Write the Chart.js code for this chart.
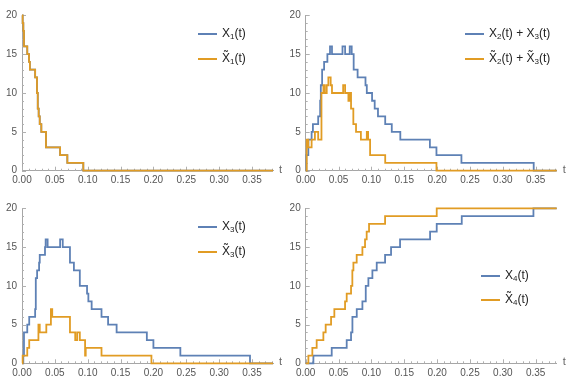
<!DOCTYPE html>
<html>
<head>
<meta charset="utf-8">
<script src="https://cdn.jsdelivr.net/npm/chart.js@4/dist/chart.umd.min.js"></script>
<style>
  html, body { margin: 0; padding: 0; background: #fff; }
  #wrap { position: relative; width: 573px; height: 387px; overflow: hidden; }
  #wrap canvas { position: absolute; }
  .leg { position: absolute; font: 12px "Liberation Sans", Arial, sans-serif; color: #222; white-space: nowrap; }
  .leg .row { position: absolute; height: 14px; }
  .leg .sw { position: absolute; top: 6px; width: 19px; height: 2px; }
  .leg .tx { position: absolute; left: 24px; top: -1px; }
  .leg sub { font-size: 8px; vertical-align: -2px; }
</style>
</head>
<body>
<div id="wrap">
  <canvas id="p1" width="286" height="193" style="left:0;top:0"></canvas>
  <canvas id="p2" width="287" height="193" style="left:286px;top:0"></canvas>
  <canvas id="p3" width="286" height="194" style="left:0;top:193px"></canvas>
  <canvas id="p4" width="287" height="194" style="left:286px;top:193px"></canvas>
</div>
<script>
// colours (Mathematica default palette)
const BLUE = '#5e81b5';
const ORANGE = '#e19c24';

// axis ticks
const xTickValues = [0, 0.05, 0.10, 0.15, 0.20, 0.25, 0.30, 0.35];
const xTickLabels = ['0.00', '0.05', '0.10', '0.15', '0.20', '0.25', '0.30', '0.35'];
const yTickValues = [0, 5, 10, 15, 20];
const yTickLabels = ['0', '5', '10', '15', '20'];
const T_END = 0.382;

// X1(t) and X~1(t) (the two coincide)
const x1Times  = [0, 0.001, 0.002, 0.003, 0.008, 0.0107, 0.012, 0.020, 0.0228, 0.024, 0.0254, 0.027, 0.0294, 0.0365, 0.058, 0.069, 0.0933];
const x1Values = [20, 19, 18, 16, 15, 14, 13, 12, 10, 8, 7, 6, 5, 3, 2, 1, 0];
const x1tTimes  = [0, 0.001, 0.002, 0.003, 0.008, 0.0107, 0.012, 0.020, 0.0228, 0.024, 0.0254, 0.027, 0.0294, 0.0365, 0.058, 0.069, 0.0933];
const x1tValues = [20, 19, 18, 16, 15, 14, 13, 12, 10, 8, 7, 6, 5, 3, 2, 1, 0];

// X2(t)+X3(t) and X~2(t)+X~3(t)
const x23Times  = [0, 0.001, 0.004, 0.009, 0.011, 0.019, 0.022, 0.023, 0.025, 0.028, 0.033, 0.037, 0.040, 0.056, 0.060, 0.067, 0.070, 0.073, 0.079, 0.089, 0.091, 0.093, 0.101, 0.105, 0.110, 0.121, 0.131, 0.144, 0.189, 0.199, 0.237, 0.347];
const x23Values = [0, 2, 4, 5, 6, 7, 9, 11, 13, 14, 15, 16, 15, 16, 15, 16, 15, 13, 12, 12, 11, 10, 9, 8, 7, 6, 5, 4, 3, 2, 1, 0];
const x23tTimes  = [0, 0.0015, 0.004, 0.009, 0.014, 0.019, 0.024, 0.027, 0.029, 0.032, 0.0345, 0.038, 0.040, 0.057, 0.060, 0.065, 0.067, 0.069, 0.0725, 0.0766, 0.084, 0.093, 0.095, 0.098, 0.121, 0.199];
const x23tValues = [0, 4, 3, 4, 5, 4, 10, 11, 10, 11, 12, 11, 10, 11, 10, 9, 10, 8, 6, 5, 4, 5, 4, 2, 1, 0];

// X3(t) and X~3(t)
const x3Times  = [0, 0.002, 0.003, 0.008, 0.011, 0.020, 0.021, 0.023, 0.026, 0.027, 0.035, 0.036, 0.039, 0.058, 0.062, 0.073, 0.079, 0.088, 0.099, 0.101, 0.106, 0.121, 0.131, 0.144, 0.190, 0.200, 0.241, 0.347];
const x3Values = [0, 1, 4, 5, 6, 7, 11, 12, 13, 14, 15, 16, 15, 16, 15, 13, 12, 10, 9, 8, 7, 6, 5, 4, 3, 2, 1, 0];
const x3tTimes  = [0, 0.001, 0.008, 0.011, 0.025, 0.027, 0.037, 0.044, 0.046, 0.073, 0.081, 0.084, 0.088, 0.096, 0.097, 0.121, 0.197];
const x3tValues = [0, 1, 2, 3, 5, 4, 5, 7, 6, 4, 3, 4, 3, 1, 2, 1, 0];

// X4(t) and X~4(t)
const x4Times  = [0, 0.0117, 0.0396, 0.0624, 0.0690, 0.0711, 0.0777, 0.0863, 0.0914, 0.0954, 0.1015, 0.1081, 0.1208, 0.1299, 0.1436, 0.1893, 0.1994, 0.2375, 0.3466];
const x4Values = [0, 1, 2, 3, 4, 6, 7, 8, 10, 11, 12, 13, 14, 15, 16, 17, 18, 19, 20];
const x4tTimes  = [0, 0.0041, 0.0101, 0.0167, 0.0269, 0.0304, 0.0386, 0.0436, 0.0599, 0.0624, 0.0690, 0.0710, 0.0726, 0.0776, 0.0863, 0.0903, 0.0928, 0.0964, 0.1208, 0.1994];
const x4tValues = [0, 1, 2, 3, 4, 5, 6, 7, 8, 9, 10, 12, 13, 14, 15, 16, 17, 18, 19, 20];

function stepPoints(times, values) {
    const pts = times.map((t, i) => ({ x: t, y: values[i] }));
    pts.push({ x: T_END, y: values[values.length - 1] });
    return pts;
}

// inward ticks, minor ticks and the "t" axis label
const axisDecor = {
    id: 'axisDecor',
    beforeDatasetsDraw(chart) {
        const { ctx, chartArea: a } = chart;
        const xs = chart.scales.x, ys = chart.scales.y;
        ctx.save();
        ctx.strokeStyle = '#b0b0b0';
        ctx.lineWidth = 1;
        ctx.beginPath();
        for (let i = 0; i <= 38; i++) {
            const px = Math.round(xs.getPixelForValue(i / 100)) + 0.5;
            const len = i % 5 === 0 ? 4 : 2;
            ctx.moveTo(px, a.bottom);
            ctx.lineTo(px, a.bottom - len);
        }
        for (let j = 0; j <= 20; j++) {
            const py = Math.round(ys.getPixelForValue(j)) + 0.5;
            const len = j % 5 === 0 ? 4 : 2;
            ctx.moveTo(a.left, py);
            ctx.lineTo(a.left + len, py);
        }
        ctx.stroke();
        ctx.fillStyle = '#666';
        ctx.font = '11px "Liberation Sans", Arial, sans-serif';
        ctx.textBaseline = 'middle';
        ctx.fillText('t', a.right + 6, a.bottom - 1);
        ctx.restore();
    }
};

function makePanel(id, box, blue, orange, legend) {
    const canvas = document.getElementById(id);
    const W = canvas.width, H = canvas.height;
    new Chart(canvas.getContext('2d'), {
        type: 'line',
        data: {
            datasets: [
                { data: blue, borderColor: BLUE, borderWidth: 1.8, stepped: true, pointRadius: 0, fill: false, order: 1, clip: 4 },
                { data: orange, borderColor: ORANGE, borderWidth: 1.8, stepped: true, pointRadius: 0, fill: false, order: 0, clip: 4 }
            ]
        },
        options: {
            responsive: false,
            animation: false,
            events: [],
            layout: { padding: { left: 0, top: box.top, right: W - box.right, bottom: 0 } },
            plugins: { legend: { display: false }, tooltip: { enabled: false } },
            scales: {
                x: {
                    type: 'linear', min: 0, max: T_END,
                    afterFit: s => { s.height = H - box.bottom; },
                    afterBuildTicks: s => { s.ticks = xTickValues.map(v => ({ value: v })); },
                    grid: { display: false, drawTicks: false },
                    border: { display: true, color: '#a6a6a6', width: 1 },
                    ticks: {
                        callback: (v, i) => xTickLabels[i],
                        color: '#555', padding: 4, maxRotation: 0, autoSkip: false,
                        font: { family: '"Liberation Sans", Arial, sans-serif', size: 10 }
                    }
                },
                y: {
                    type: 'linear', min: 0, max: 20,
                    afterFit: s => { s.width = box.left; },
                    afterBuildTicks: s => { s.ticks = yTickValues.map(v => ({ value: v })); },
                    grid: { display: false, drawTicks: false },
                    border: { display: true, color: '#a6a6a6', width: 1 },
                    ticks: {
                        callback: (v, i) => yTickLabels[i],
                        color: '#555', padding: 5,
                        font: { family: '"Liberation Sans", Arial, sans-serif', size: 10 }
                    }
                }
            }
        },
        plugins: [axisDecor]
    });

    // legend as html text
    const leg = document.createElement('div');
    leg.className = 'leg';
    leg.style.left = (parseFloat(canvas.style.left) + legend.x) + 'px';
    leg.style.top = (parseFloat(canvas.style.top) + legend.y) + 'px';
    legend.items.forEach((it, k) => {
        const row = document.createElement('div');
        row.className = 'row';
        row.style.top = (k * legend.gap) + 'px';
        row.innerHTML = '<div class="sw" style="background:' + it.color + '"></div><div class="tx">' + it.html + '</div>';
        leg.appendChild(row);
    });
    document.getElementById('wrap').appendChild(leg);
}

const X = 'X', XT = 'X\u0303';
makePanel('p1', { left: 22, right: 273, top: 15.3, bottom: 170.7 },
    stepPoints(x1Times, x1Values), stepPoints(x1tTimes, x1tValues),
    { x: 198, y: 27, gap: 24.5, items: [
        { color: BLUE, html: X + '<sub>1</sub>(t)' },
        { color: ORANGE, html: XT + '<sub>1</sub>(t)' }] });
makePanel('p2', { left: 19.7, right: 270.7, top: 15.3, bottom: 170.7 },
    stepPoints(x23Times, x23Values), stepPoints(x23tTimes, x23tValues),
    { x: 179, y: 27, gap: 24.5, items: [
        { color: BLUE, html: X + '<sub>2</sub>(t) + ' + X + '<sub>3</sub>(t)' },
        { color: ORANGE, html: XT + '<sub>2</sub>(t) + ' + XT + '<sub>3</sub>(t)' }] });
makePanel('p3', { left: 22, right: 273, top: 15.3, bottom: 170.3 },
    stepPoints(x3Times, x3Values), stepPoints(x3tTimes, x3tValues),
    { x: 198, y: 27, gap: 24.5, items: [
        { color: BLUE, html: X + '<sub>3</sub>(t)' },
        { color: ORANGE, html: XT + '<sub>3</sub>(t)' }] });
makePanel('p4', { left: 19.7, right: 270.7, top: 15.3, bottom: 170.3 },
    stepPoints(x4Times, x4Values), stepPoints(x4tTimes, x4tValues),
    { x: 195, y: 76, gap: 23.5, items: [
        { color: BLUE, html: X + '<sub>4</sub>(t)' },
        { color: ORANGE, html: XT + '<sub>4</sub>(t)' }] });
</script>
</body>
</html>
